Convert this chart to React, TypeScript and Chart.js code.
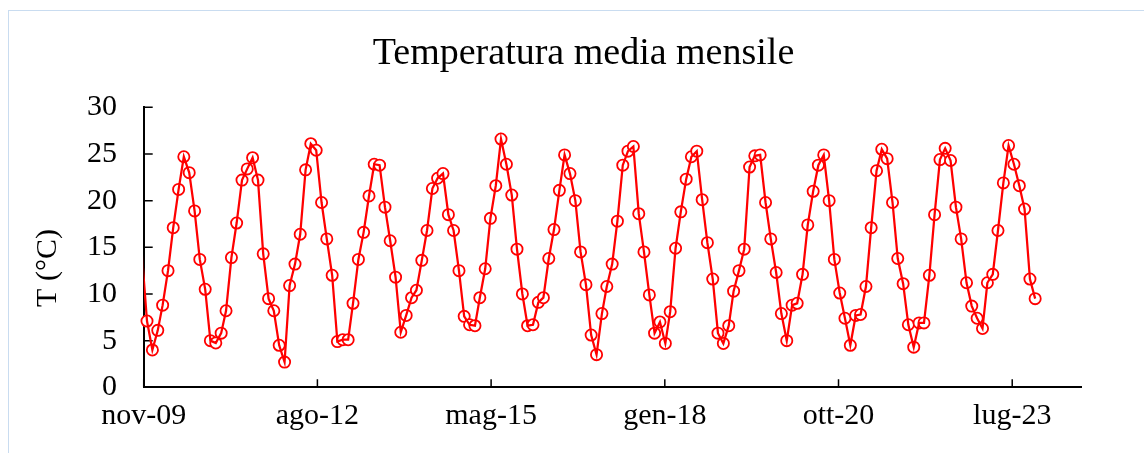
import React, { useEffect, useRef } from "react";
import { Chart, registerables } from "chart.js";

Chart.register(...registerables);

// ---- data ----
const START_YEAR = 2009;
const START_MONTH = 10; // November (0-based month index)

const temperature: number[] = [
  // 2009 (nov, dic)
  14.4, 7.1,
  // 2010
  4.0, 6.1, 8.8, 12.5, 17.1, 21.2, 24.7, 23.0, 18.9, 13.7, 10.5, 5.0,
  // 2011
  4.75, 5.8, 8.2, 13.9, 17.6, 22.2, 23.4, 24.6, 22.2, 14.3, 9.5, 8.2,
  // 2012
  4.5, 2.7, 10.9, 13.2, 16.4, 23.3, 26.1, 25.4, 19.8, 15.9, 12.0, 4.9,
  // 2013
  5.1, 5.1, 9.0, 13.7, 16.6, 20.5, 23.9, 23.8, 19.3, 15.7, 11.8, 5.9,
  // 2014
  7.7, 9.6, 10.4, 13.6, 16.8, 21.3, 22.4, 22.9, 18.5, 16.8, 12.5, 7.6,
  // 2015
  6.7, 6.6, 9.6, 12.7, 18.1, 21.6, 26.6, 23.9, 20.6, 14.8, 10.0, 6.6,
  // 2016
  6.7, 9.1, 9.6, 13.8, 16.9, 21.1, 24.9, 22.9, 20.0, 14.5, 11.0, 5.6,
  // 2017
  3.5, 7.9, 10.8, 13.2, 17.8, 23.8, 25.3, 25.8, 18.6, 14.5, 9.9, 5.8,
  // 2018
  7.0, 4.7, 8.1, 14.9, 18.8, 22.3, 24.7, 25.3, 20.1, 15.5, 11.6, 5.8,
  // 2019
  4.7, 6.6, 10.3, 12.5, 14.8, 23.6, 24.8, 24.9, 19.8, 15.9, 12.3, 7.9,
  // 2020
  5.0, 8.8, 9.0, 12.1, 17.4, 21.0, 23.8, 24.9, 20.0, 13.7, 10.1, 7.4,
  // 2021
  4.5, 7.7, 7.8, 10.8, 17.1, 23.2, 25.5, 24.5, 19.8, 13.8, 11.1, 6.7,
  // 2022
  4.3, 6.9, 6.9, 12.0, 18.5, 24.4, 25.6, 24.3, 19.3, 15.9, 11.2, 8.7,
  // 2023
  7.4, 6.3, 11.2, 12.1, 16.8, 21.9, 25.9, 23.9, 21.6, 19.1, 11.6, 9.5,
];

const xTickLabels: string[] = ["nov-09", "ago-12", "mag-15", "gen-18", "ott-20", "lug-23"];
const yTickValues: number[] = [0, 5, 10, 15, 20, 25, 30];

const AXIS_START_DAY = Date.UTC(2009, 10, 12) / 864e5; // axis minimum (days)
const TICK_STEP_DAYS = 1000;
const AXIS_SPAN_DAYS = 5400;

const chartTitle = "Temperatura media mensile";
const yAxisTitle = "T (°C)";

// ---- styling / layout ----
const FONT = "'Liberation Serif', 'Times New Roman', serif";
const RED = "#ff0000";
const W = 1144;
const H = 453;

const decorPlugin = {
  id: "decor",
  beforeDatasetsDraw(chart: any) {
    const { ctx, chartArea: a, scales } = chart;
    const x = scales.x;
    const y = scales.y;
    ctx.save();
    ctx.strokeStyle = "#000";
    ctx.lineWidth = 1.5;
    ctx.beginPath();
    x.ticks.forEach((t: any) => {
      const px = x.getPixelForValue(t.value);
      ctx.moveTo(px, a.bottom);
      ctx.lineTo(px, a.bottom - 8);
    });
    y.ticks.forEach((t: any) => {
      const py = y.getPixelForValue(t.value);
      ctx.moveTo(a.left, py);
      ctx.lineTo(a.left + 9, py);
    });
    ctx.stroke();
    ctx.restore();
  },
  afterDraw(chart: any) {
    const { ctx } = chart;
    ctx.save();
    ctx.fillStyle = "#000";
    ctx.textAlign = "center";
    ctx.textBaseline = "alphabetic";
    ctx.font = `38px ${FONT}`;
    ctx.fillText(chartTitle, 583.5, 64);
    ctx.translate(56, 268);
    ctx.rotate(-Math.PI / 2);
    ctx.font = `30px ${FONT}`;
    ctx.fillText(yAxisTitle, 0, 0);
    ctx.restore();
  },
};

export default function App() {
  const canvasRef = useRef<HTMLCanvasElement | null>(null);

  useEffect(() => {
    const canvas = canvasRef.current;
    if (!canvas) return;

    const points = temperature.map((t, i) => ({
      x: Date.UTC(START_YEAR, START_MONTH + i, 1) / 864e5,
      y: t,
    }));
    const visiblePoints = points.filter((p) => p.x >= AXIS_START_DAY);

    const chart = new Chart(canvas, {
      type: "line",
      data: {
        datasets: [
          {
            data: points,
            borderColor: RED,
            borderWidth: 2.25,
            pointRadius: 0,
            tension: 0,
            clip: { left: 0, right: false, top: false, bottom: false } as any,
          },
          {
            data: visiblePoints,
            showLine: false,
            pointRadius: 5.6,
            pointBorderWidth: 1.8,
            pointBorderColor: RED,
            pointBackgroundColor: "#ffffff",
            clip: false as any,
          },
        ],
      },
      options: {
        animation: false,
        responsive: false,
        events: [],
        layout: { padding: { top: 107.3, right: 62.3, bottom: 0, left: 0 } },
        plugins: {
          legend: { display: false },
          title: { display: false },
          tooltip: { enabled: false },
        },
        scales: {
          x: {
            type: "linear",
            min: AXIS_START_DAY,
            max: AXIS_START_DAY + AXIS_SPAN_DAYS,
            afterBuildTicks: (s: any) => {
              s.ticks = xTickLabels.map((_, i) => ({ value: AXIS_START_DAY + i * TICK_STEP_DAYS }));
            },
            afterFit: (s: any) => {
              s.height = 65.7;
            },
            ticks: {
              callback: (_v: any, i: number) => xTickLabels[i] ?? "",
              font: { family: FONT, size: 30 },
              color: "#000",
              padding: 11,
              maxRotation: 0,
              autoSkip: false,
            },
            grid: { display: false, drawTicks: false },
            border: { display: true, color: "#000", width: 2 },
          },
          y: {
            type: "linear",
            min: 0,
            max: 30,
            afterBuildTicks: (s: any) => {
              s.ticks = yTickValues.map((v) => ({ value: v }));
            },
            afterFit: (s: any) => {
              s.width = 143.7;
            },
            ticks: {
              callback: (v: any) => String(v),
              font: { family: FONT, size: 30 },
              color: "#000",
              padding: 26.7,
            },
            grid: { display: false, drawTicks: false },
            border: { display: true, color: "#000", width: 2 },
          },
        },
      },
      plugins: [decorPlugin],
    });

    return () => chart.destroy();
  }, []);

  return (
    <div style={{ position: "absolute", left: 0, top: 0, width: W, height: H, background: "#fff" }}>
      <div
        style={{
          position: "absolute",
          left: 8,
          top: 10,
          width: W - 8,
          height: H - 10,
          boxSizing: "border-box",
          borderTop: "1px solid #c9dcf0",
          borderLeft: "1px solid #c9dcf0",
        }}
      />
      <canvas
        ref={canvasRef}
        width={W}
        height={H}
        style={{ position: "absolute", left: 0, top: 0, width: W, height: H }}
      />
    </div>
  );
}
